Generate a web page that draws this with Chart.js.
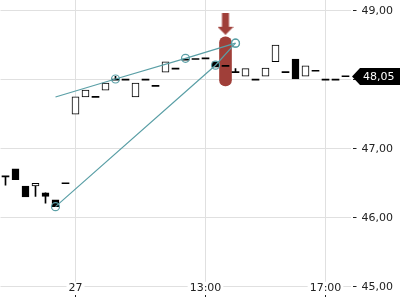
<!DOCTYPE html>
<html>
<head>
<meta charset="utf-8">
<script src="https://cdn.jsdelivr.net/npm/chart.js@4"></script>
<style>
    html, body { margin: 0; padding: 0; background: #fff; }
</style>
</head>
<body>
<canvas id="chart" width="400" height="300"></canvas>
<script>
// 20 minute candles: end of the 26th, then the 27th
const times = [
    "26 15:40", "26 16:00", "26 16:20", "26 16:40", "26 17:00", "26 17:20", "26 17:40",
    "27 08:40", "27 09:00", "27 09:20", "27 09:40", "27 10:00", "27 10:20", "27 10:40",
    "27 11:00", "27 11:20", "27 11:40", "27 12:00", "27 12:20", "27 12:40", "27 13:00",
    "27 13:20", "27 13:40", "27 14:00", "27 14:20", "27 14:40", "27 15:00", "27 15:20",
    "27 15:40", "27 16:00", "27 16:20", "27 16:40", "27 17:00", "27 17:20", "27 17:40",
];
const opens = [
    46.60, 46.71, 46.46, 46.46, 46.36, 46.26, 46.50,
    47.50, 47.75, 47.75, 47.85, 48.00, 48.00, 47.75,
    48.00, 47.91, 48.11, 48.16, 48.29, 48.30, 48.31,
    48.26, 48.20, 48.11, 48.05, 48.00, 48.05, 48.26,
    48.11, 48.30, 48.05, 48.13, 48.00, 48.00, 48.05,
];
const highs = [
    46.60, 46.71, 46.46, 46.50, 46.36, 46.26, 46.50,
    47.75, 47.85, 47.75, 47.95, 48.05, 48.00, 47.95,
    48.00, 47.91, 48.26, 48.16, 48.29, 48.30, 48.31,
    48.26, 48.20, 48.16, 48.16, 48.00, 48.17, 48.50,
    48.11, 48.30, 48.20, 48.13, 48.00, 48.00, 48.05,
];
const lows = [
    46.47, 46.55, 46.30, 46.31, 46.21, 46.16, 46.50,
    47.50, 47.75, 47.75, 47.85, 48.00, 48.00, 47.75,
    48.00, 47.91, 48.11, 48.16, 48.29, 48.30, 48.31,
    48.18, 48.20, 48.11, 48.05, 48.00, 48.05, 48.26,
    48.11, 48.01, 48.05, 48.13, 48.00, 48.00, 48.05,
];
const closes = [
    46.60, 46.55, 46.30, 46.50, 46.31, 46.16, 46.50,
    47.75, 47.85, 47.75, 47.95, 48.00, 48.00, 47.95,
    48.00, 47.91, 48.26, 48.16, 48.29, 48.30, 48.31,
    48.18, 48.20, 48.11, 48.16, 48.00, 48.17, 48.50,
    48.11, 48.01, 48.20, 48.13, 48.00, 48.00, 48.05,
];

// axis labels
const yTicks = [45, 46, 47, 48, 49];
const xTickTimes = ["27 08:40", "27 13:00", "27 17:00"];
const xTickLabels = ["27", "13:00", "17:00"];

// drawing tools on the chart
const trendATimes = ["26 17:20", "27 10:00", "27 12:20", "27 14:00"];
const trendAValues = [47.75, 48.01, 48.31, 48.53];
const trendBTimes = ["26 17:20", "27 13:20", "27 14:00"];
const trendBValues = [46.16, 48.21, 48.53];
const markerTime = "27 13:40";
const markerRange = [47.91, 48.62];
const arrowValue = 48.81;

const gridColor = "#e0e0e0";
const textColor = "#222";
const teal = "#5a9fa6";
const markerColor = "#a03f39";
const font = { family: "'DejaVu Sans'", size: 11 };

// candle bodies and wicks
const bodies = opens.map((o, i) => {
    const c = closes[i];
    if (o === c) return [o - 0.0073, o + 0.0073];
    return [Math.min(o, c), Math.max(o, c)];
});
const wicks = opens.map((o, i) => {
    const c = closes[i];
    if (highs[i] > Math.max(o, c) || lows[i] < Math.min(o, c)) return [lows[i], highs[i]];
    return null;
});

function makeArrow() {
    const c = document.createElement("canvas");
    c.width = 16;
    c.height = 22;
    const g = c.getContext("2d");
    g.fillStyle = markerColor;
    g.fillRect(4.5, 0, 7, 14);
    g.beginPath();
    g.moveTo(0, 14);
    g.lineTo(16, 14);
    g.lineTo(8, 22);
    g.closePath();
    g.fill();
    return c;
}

function isXTick(i) {
    return xTickTimes.indexOf(times[i]) >= 0;
}

// last price tag on the right axis
const priceTag = {
    id: "priceTag",
    afterDraw(chart) {
        const last = closes[closes.length - 1];
        const py = Math.round(chart.scales.y.getPixelForValue(last)) + 0.5;
        const x0 = Math.round(chart.chartArea.right) + 1;
        const ctx = chart.ctx;
        ctx.save();
        ctx.fillStyle = "#000";
        ctx.beginPath();
        ctx.moveTo(x0, py);
        ctx.lineTo(x0 + 8, py - 8.5);
        ctx.lineTo(chart.width, py - 8.5);
        ctx.lineTo(chart.width, py + 8.5);
        ctx.lineTo(x0 + 8, py + 8.5);
        ctx.closePath();
        ctx.fill();
        ctx.fillStyle = "#fff";
        ctx.font = "11px 'DejaVu Sans'";
        ctx.textBaseline = "middle";
        ctx.fillText(last.toFixed(2).replace(".", ","), x0 + 11, py + 0.5);
        ctx.restore();
    },
};

const ctx = document.getElementById("chart").getContext("2d");
new Chart(ctx, {
    type: "bar",
    data: {
        labels: times,
        datasets: [
            {
                type: "line",
                data: [{ x: markerTime, y: arrowValue }],
                showLine: false,
                pointStyle: makeArrow(),
                order: 0,
            },
            {
                type: "line",
                data: trendATimes.map((t, i) => ({ x: t, y: trendAValues[i] })),
                borderColor: teal,
                borderWidth: 1.2,
                pointRadius: trendATimes.map((t, i) => (i === 0 ? 0 : 4)),
                pointBorderColor: teal,
                pointBorderWidth: 1.2,
                pointBackgroundColor: "rgba(0,0,0,0)",
                tension: 0,
                order: 1,
            },
            {
                type: "line",
                data: trendBTimes.map((t, i) => ({ x: t, y: trendBValues[i] })),
                borderColor: teal,
                borderWidth: 1.2,
                pointRadius: 4,
                pointBorderColor: teal,
                pointBorderWidth: 1.2,
                pointBackgroundColor: "rgba(0,0,0,0)",
                tension: 0,
                order: 1,
            },
            {
                data: bodies,
                grouped: false,
                barThickness: 7,
                backgroundColor: opens.map((o, i) => (closes[i] > o ? "#fff" : "#000")),
                borderColor: "#000",
                borderWidth: opens.map((o, i) => (closes[i] === o ? 0 : 1)),
                borderSkipped: false,
                order: 2,
            },
            {
                data: wicks,
                grouped: false,
                barThickness: 1,
                backgroundColor: "#000",
                order: 3,
            },
            {
                data: times.map((t) => (t === markerTime ? markerRange : null)),
                grouped: false,
                barThickness: 12,
                borderRadius: 6,
                borderSkipped: false,
                backgroundColor: markerColor,
                order: 4,
            },
        ],
    },
    options: {
        responsive: false,
        animation: false,
        layout: { autoPadding: false, padding: { left: 0.5, top: 0, right: 0, bottom: 0 } },
        plugins: {
            legend: { display: false },
            tooltip: { enabled: false },
        },
        scales: {
            x: {
                type: "category",
                offset: true,
                border: { display: false },
                grid: {
                    offset: false,
                    color: (c) => (isXTick(c.index) ? gridColor : "rgba(0,0,0,0)"),
                    tickColor: (c) => (isXTick(c.index) ? textColor : "rgba(0,0,0,0)"),
                    tickLength: 4,
                },
                ticks: {
                    autoSkip: false,
                    maxRotation: 0,
                    mirror: true,
                    padding: -2,
                    font: font,
                    color: textColor,
                    z: 1,
                    showLabelBackdrop: (c) => isXTick(c.index),
                    backdropColor: "#fff",
                    backdropPadding: { left: 2, right: 2, top: 0, bottom: 0 },
                    callback: function (value, index) {
                        const k = xTickTimes.indexOf(times[index]);
                        return k >= 0 ? xTickLabels[k] : "";
                    },
                },
                afterFit: (s) => {
                    s.height = 7;
                    s.paddingLeft = 0;
                    s.paddingRight = 0;
                },
            },
            y: {
                position: "right",
                min: 44.909,
                max: 49.155,
                border: { display: false },
                grid: {
                    color: gridColor,
                    tickColor: textColor,
                    tickLength: 6,
                    tickBorderDash: [0, 2, 4, 2],
                },
                ticks: {
                    padding: 5,
                    font: font,
                    color: textColor,
                    callback: (v) => v.toFixed(2).replace(".", ","),
                },
                afterBuildTicks: (s) => {
                    s.ticks = yTicks.map((v) => ({ value: v }));
                },
                afterFit: (s) => {
                    s.width = 49.5;
                    s.paddingTop = 0;
                    s.paddingBottom = 0;
                },
            },
        },
    },
    plugins: [priceTag],
});
</script>
</body>
</html>
